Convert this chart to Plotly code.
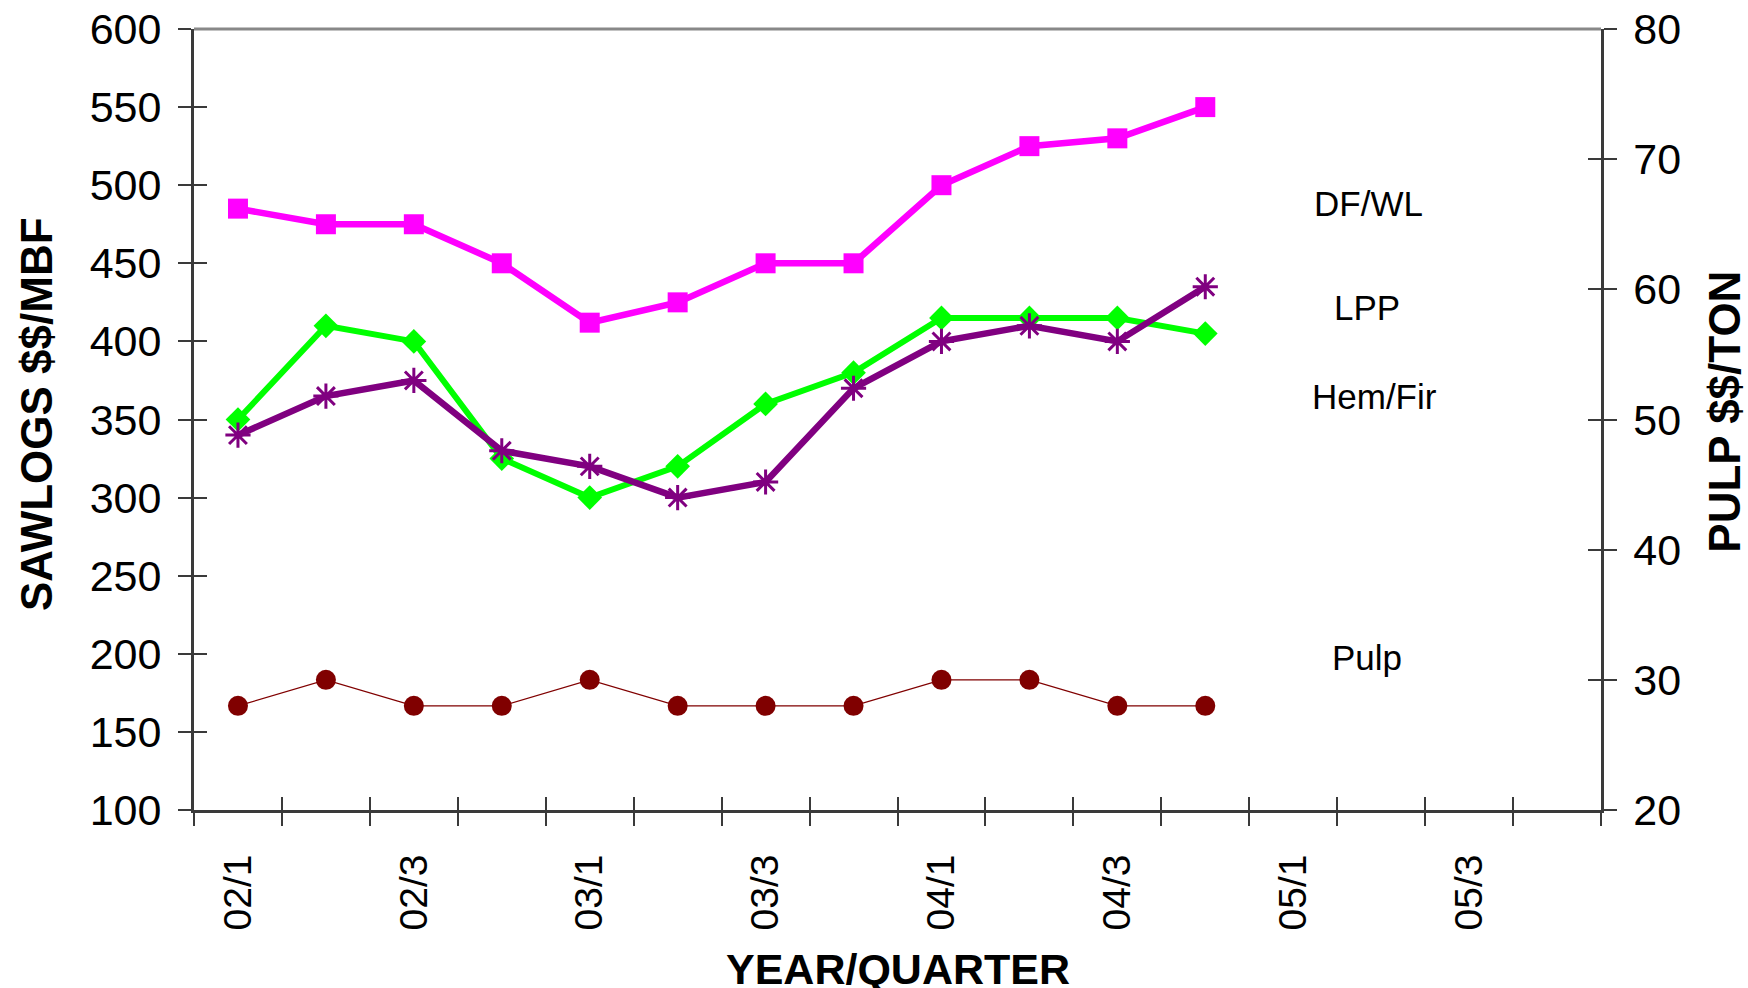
import plotly.graph_objects as go

# ---- data ----
quarters = ["02/1", "02/2", "02/3", "02/4", "03/1", "03/2", "03/3", "03/4",
            "04/1", "04/2", "04/3", "04/4", "05/1", "05/2", "05/3", "05/4"]
df_wl = [485, 475, 475, 450, 412, 425, 450, 450, 500, 525, 530, 550]
hem_fir = [350, 410, 400, 325, 300, 320, 360, 380, 415, 415, 415, 405]
lpp = [340, 365, 375, 330, 320, 300, 310, 370, 400, 410, 400, 435]
pulp = [28, 30, 28, 28, 30, 28, 28, 28, 30, 30, 28, 28]
left_ticks = [100, 150, 200, 250, 300, 350, 400, 450, 500, 550, 600]
right_ticks = [20, 30, 40, 50, 60, 70, 80]
series_labels = ["DF/WL", "LPP", "Hem/Fir", "Pulp"]

FONT = "Liberation Sans, Arial, sans-serif"
AX = "#3a3a3a"

n = len(quarters)
idx = list(range(len(df_wl)))
label_pos = list(range(0, n, 2))
label_txt = [quarters[i] for i in label_pos]
bounds = [i - 0.5 for i in range(n + 1)]

fig = go.Figure()

fig.add_trace(go.Scatter(
    x=idx, y=df_wl, mode="lines+markers", name="DF/WL",
    line=dict(color="#FF00FF", width=6.5),
    marker=dict(symbol="square", size=20, color="#FF00FF")))
fig.add_trace(go.Scatter(
    x=idx, y=hem_fir, mode="lines+markers", name="Hem/Fir",
    line=dict(color="#00FF00", width=6),
    marker=dict(symbol="diamond", size=19, color="#00FF00")))
fig.add_trace(go.Scatter(
    x=idx, y=lpp, mode="lines+markers", name="LPP",
    line=dict(color="#800080", width=6.5),
    marker=dict(symbol="asterisk-open", size=21, color="#800080",
                line=dict(color="#800080", width=3))))
fig.add_trace(go.Scatter(
    x=idx, y=pulp, mode="lines+markers", name="Pulp", yaxis="y2",
    line=dict(color="#800000", width=1.2),
    marker=dict(symbol="circle", size=20, color="#800000")))

# empty helper traces so overlay tick axes render
fig.add_trace(go.Scatter(x=[None], y=[None], xaxis="x2", yaxis="y",
                         showlegend=False, hoverinfo="skip"))
fig.add_trace(go.Scatter(x=[None], y=[None], xaxis="x", yaxis="y3",
                         showlegend=False, hoverinfo="skip"))
fig.add_trace(go.Scatter(x=[None], y=[None], xaxis="x", yaxis="y4",
                         showlegend=False, hoverinfo="skip"))

xr = [-0.5, n - 0.5]
fig.update_layout(
    width=1748, height=988,
    margin=dict(l=194, r=147, t=29, b=178),
    paper_bgcolor="white", plot_bgcolor="white",
    showlegend=False,
    font=dict(family=FONT, color="black"),
    xaxis=dict(
        range=xr, tickmode="array", tickvals=label_pos, ticktext=label_txt,
        ticks="", tickangle=-90, tickfont=dict(size=39),
        ticklabelstandoff=26, automargin=False,
        showline=True, linecolor=AX, linewidth=3,
        showgrid=False, zeroline=False,
        minor=dict(tickmode="linear", tick0=-0.5, dtick=1, ticks="outside",
                   ticklen=13, tickwidth=1.5, tickcolor=AX, showgrid=False)),
    xaxis2=dict(
        range=xr, overlaying="x", anchor="y", tickmode="array", tickvals=bounds,
        ticks="inside", ticklen=13, tickwidth=1.5, tickcolor=AX, automargin=False,
        showticklabels=False, showline=False, showgrid=False, zeroline=False),
    yaxis=dict(
        range=[100, 600], tickmode="array", tickvals=left_ticks,
        ticks="outside", ticklen=13, tickwidth=1.5, tickcolor=AX,
        tickfont=dict(size=43), ticklabelstandoff=8, automargin=False,
        showline=True, linecolor=AX, linewidth=3,
        showgrid=False, zeroline=False),
    yaxis3=dict(
        range=[100, 600], overlaying="y", anchor="x", side="left",
        tickmode="array", tickvals=left_ticks, ticks="inside", ticklen=13,
        tickwidth=1.5, tickcolor=AX, showticklabels=False, showline=False,
        showgrid=False, zeroline=False, automargin=False),
    yaxis2=dict(
        range=[20, 80], overlaying="y", anchor="x", side="right",
        tickmode="array", tickvals=right_ticks,
        ticks="outside", ticklen=13, tickwidth=1.5, tickcolor=AX,
        tickfont=dict(size=43), ticklabelstandoff=8, automargin=False,
        showline=True, linecolor=AX, linewidth=2.5,
        showgrid=False, zeroline=False),
    yaxis4=dict(
        range=[20, 80], overlaying="y", anchor="x", side="right",
        tickmode="array", tickvals=right_ticks, ticks="inside", ticklen=13,
        tickwidth=1.5, tickcolor=AX, showticklabels=False, showline=False,
        showgrid=False, zeroline=False, automargin=False),
)

# top frame line
fig.add_shape(type="line", xref="paper", yref="paper", x0=0, x1=1, y0=1, y1=1,
              line=dict(color="#888888", width=3))

# series labels
lab_pos = [(0.835, 0.777), (0.834, 0.643), (0.839, 0.530), (0.834, 0.195)]
for txt, (px, py) in zip(series_labels, lab_pos):
    fig.add_annotation(text=txt, xref="paper", yref="paper", x=px, y=py,
                       xanchor="center", yanchor="middle", showarrow=False,
                       font=dict(size=35, family=FONT, color="black"))

# axis titles
fig.add_annotation(text="<b>SAWLOGS $$/MBF</b>", xref="paper", yref="paper",
                   x=-0.1123, y=0.507, textangle=-90, showarrow=False,
                   xanchor="center", yanchor="middle",
                   font=dict(size=44, family=FONT, color="black"))
fig.add_annotation(text="<b>PULP $$/TON</b>", xref="paper", yref="paper",
                   x=1.0881, y=0.510, textangle=-90, showarrow=False,
                   xanchor="center", yanchor="middle",
                   font=dict(size=44, family=FONT, color="black"))
fig.add_annotation(text="<b>YEAR/QUARTER</b>", xref="paper", yref="paper",
                   x=0.5004, y=-0.2036, showarrow=False,
                   xanchor="center", yanchor="middle",
                   font=dict(size=43, family=FONT, color="black"))

fig.write_html("out.html")
